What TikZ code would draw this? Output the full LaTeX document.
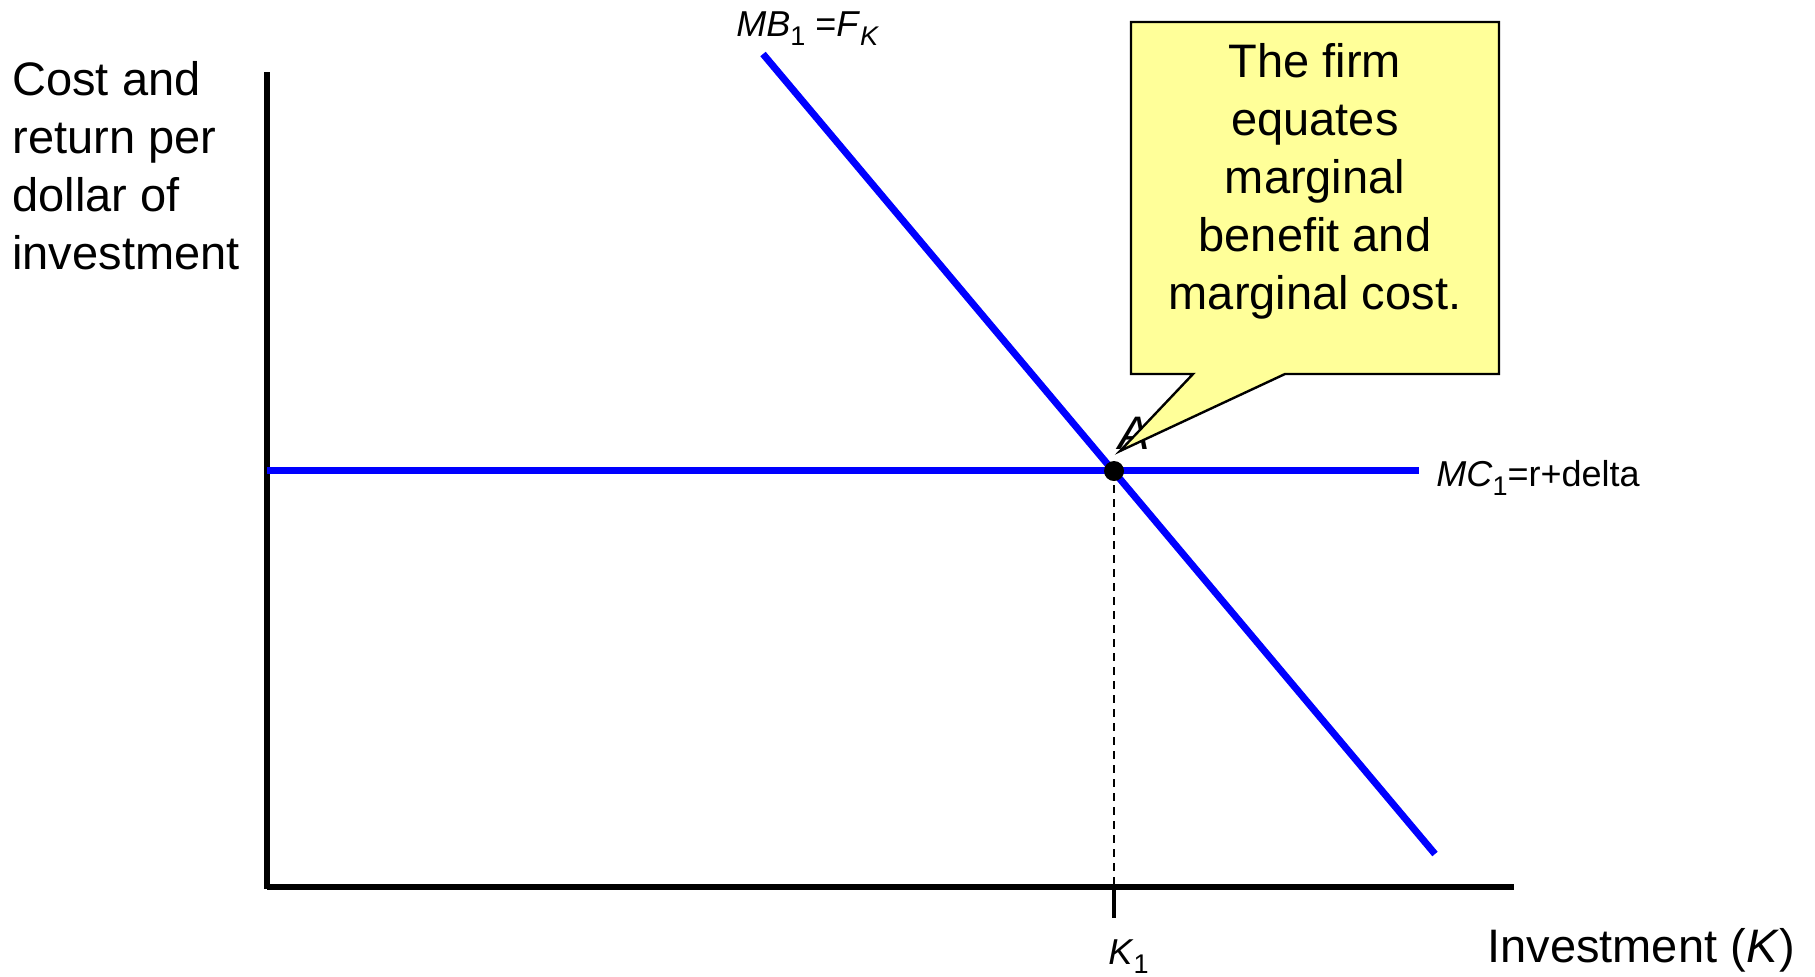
\documentclass[tikz,border=0pt]{standalone}
\usepackage{fontspec}
\setmainfont{Liberation Sans}
\newcommand{\lowsub}[1]{\raisebox{-4.5pt}{\fontsize{13.5}{14}\selectfont #1}}
\begin{document}
\begin{tikzpicture}[x=0.5pt,y=-0.5pt,
  curve/.style={draw={rgb,255:red,0;green,0;blue,255}, line width=3.5pt},
  axisline/.style={draw=black, line width=3pt},
  biglabel/.style={font=\fontsize{23.5}{29}\selectfont, inner sep=0pt},
  smalllabel/.style={font=\fontsize{18}{20}\selectfont, inner sep=0pt},
  calloutbox/.style={draw=black, line width=1.2pt, fill={rgb,255:red,255;green,255;blue,153}, line join=miter},
  guide/.style={draw=black, line width=0.7pt, dash pattern=on 4pt off 3pt}]
\useasboundingbox (0,0) rectangle (1815,976);
% coordinates
\coordinate (O) at (267,887);
\coordinate (ybot) at (267,889);
\coordinate (ytop) at (267,72);
\coordinate (xend) at (1514,887);
\coordinate (mcstart) at (267,470);
\coordinate (mcend) at (1419,470);
\coordinate (mbstart) at (763,54);
\coordinate (mbend) at (1435,854);
\coordinate (A) at (1114,471);
\coordinate (K1foot) at (1114,887);
\coordinate (K1tick) at (1114,918);
% axes
\draw[axisline] (ybot) -- (ytop);
\draw[axisline] (O) -- (xend);
% guide
\draw[guide] (A) -- (K1foot);
\draw[draw=black, line width=2pt] (K1foot) -- (K1tick);
% curves
\draw[curve] (mcstart) -- (mcend);
\draw[curve] (mbstart) -- (mbend);
\fill[black] (A) circle (5pt);
% labels
\node[biglabel, anchor=base west] (Alabel) at (1118,449) {\textit{A}};
\node[biglabel, anchor=north west, align=left] (ylabel) at (12,61)
  {Cost and\\return per\\dollar of\\investment};
\node[biglabel, anchor=base west] (xlabel) at (1487,962) {Investment (\textit{K})};
\node[smalllabel, anchor=base west] (mblabel) at (736,36) {\textit{MB}\lowsub{1} =\textit{F}\lowsub{\textit{K}}};
\node[smalllabel, anchor=base west] (mclabel) at (1436,486) {\textit{MC}\lowsub{1}=r+delta};
\node[smalllabel, anchor=base west] (k1label) at (1108,964) {\textit{K}\lowsub{1}};
% callout
\draw[calloutbox] (1131,22) -- (1499,22) -- (1499,374) -- (1285,374) -- (1120,451) -- (1193,374) -- (1131,374) -- cycle;
\node[biglabel, align=center] (callout) at (1315,181)
  {The firm\\equates\\marginal\\benefit and\\marginal cost.};
\end{tikzpicture}
\end{document}
